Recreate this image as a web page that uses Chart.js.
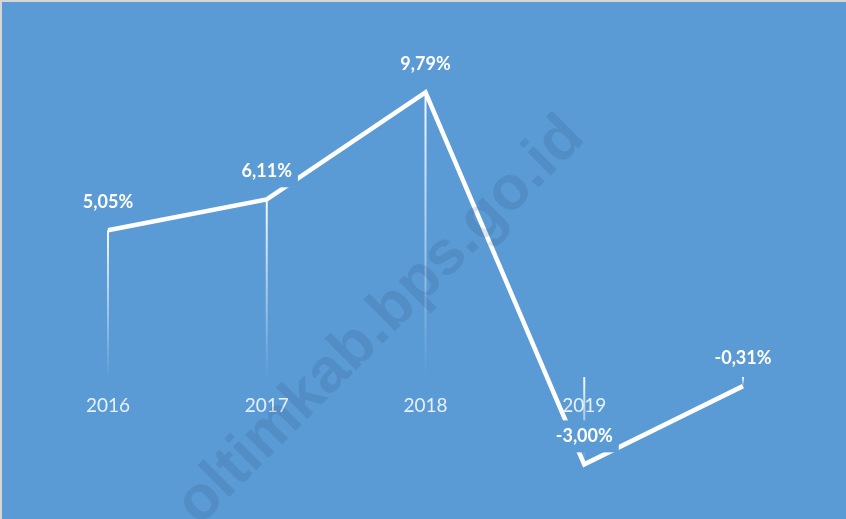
<!DOCTYPE html>
<html>
<head>
<meta charset="utf-8">
<script src="https://cdn.jsdelivr.net/npm/chart.js@4"></script>
<style>
  html, body { margin: 0; padding: 0; background: #5B9BD5; }
  #wrap { position: absolute; left: 0; top: 0; width: 846px; height: 519px; }
  #frame { position: absolute; left: 0; top: 0; width: 844px; height: 517px;
           border-top: 2px solid #d6d6d6; border-left: 2px solid #d6d6d6; pointer-events: none; }
</style>
</head>
<body>
<div id="wrap">
  <canvas id="chart" width="846" height="519"></canvas>
  <div id="frame"></div>
</div>
<script>
const years = ['2016', '2017', '2018', '2019', ''];
const growth = [5.05, 6.11, 9.79, -3.00, -0.31];
const watermark = 'oltimkab.bps.go.id';

const bg = '#5B9BD5';

function pct(v) {
  return v.toFixed(2).replace('.', ',') + '%';
}

const decor = {
  id: 'decor',
  beforeDatasetsDraw(chart) {
    const ctx = chart.ctx;
    const x = chart.scales.x, y = chart.scales.y;
    const y0 = y.getPixelForValue(0);
    const pts = chart.getDatasetMeta(0).data;

    // category labels under the zero line
    ctx.save();
    ctx.font = '19px Lato';
    ctx.fillStyle = 'rgba(255,255,255,0.85)';
    ctx.textAlign = 'center';
    ctx.textBaseline = 'middle';
    years.forEach((lab, i) => {
      ctx.fillText(lab, x.getPixelForValue(i), y0 + 29);
    });

    // drop lines
    ctx.lineWidth = 2;
    pts.forEach(p => {
      const top = Math.min(p.y, y0), bot = Math.max(p.y, y0);
      const g = ctx.createLinearGradient(0, top, 0, bot);
      g.addColorStop(0, 'rgba(255,255,255,0.95)');
      g.addColorStop(1, 'rgba(255,255,255,0)');
      ctx.strokeStyle = g;
      ctx.beginPath();
      ctx.moveTo(p.x, top);
      ctx.lineTo(p.x, bot);
      ctx.stroke();
    });
    ctx.restore();
  },
  afterDatasetsDraw(chart) {
    const ctx = chart.ctx;
    const pts = chart.getDatasetMeta(0).data;

    // value labels on a filled box
    ctx.save();
    ctx.font = 'bold 18px Lato';
    ctx.textAlign = 'center';
    ctx.textBaseline = 'middle';
    pts.forEach((p, i) => {
      const txt = pct(growth[i]);
      const w = ctx.measureText(txt).width + 12;
      const cy = p.y - 28;
      ctx.fillStyle = bg;
      ctx.fillRect(p.x - w / 2, cy - 16, w, 32);
      ctx.fillStyle = '#ffffff';
      ctx.fillText(txt, p.x, cy);
    });
    ctx.restore();

    // watermark
    ctx.save();
    ctx.translate(381, 321);
    ctx.rotate(-45 * Math.PI / 180);
    ctx.font = 'bold 62px "Liberation Sans"';
    ctx.textAlign = 'center';
    ctx.textBaseline = 'middle';
    ctx.fillStyle = 'rgba(20,50,90,0.13)';
    ctx.fillText(watermark, 0, 0);
    ctx.restore();
  }
};

new Chart(document.getElementById('chart'), {
  type: 'line',
  data: {
    labels: years,
    datasets: [{
      data: growth,
      borderColor: '#ffffff',
      borderWidth: 4.5,
      borderJoinStyle: 'miter',
      borderCapStyle: 'butt',
      pointRadius: 0,
      tension: 0,
      fill: false,
      clip: false
    }]
  },
  options: {
    responsive: false,
    animation: false,
    devicePixelRatio: 1,
    layout: { padding: { left: 108, right: 103, top: 28, bottom: 11 } },
    plugins: { legend: { display: false }, tooltip: { enabled: false } },
    scales: {
      x: { display: false, offset: false },
      y: { display: false, min: -4.5, max: 12 }
    }
  },
  plugins: [decor]
});
</script>
</body>
</html>
